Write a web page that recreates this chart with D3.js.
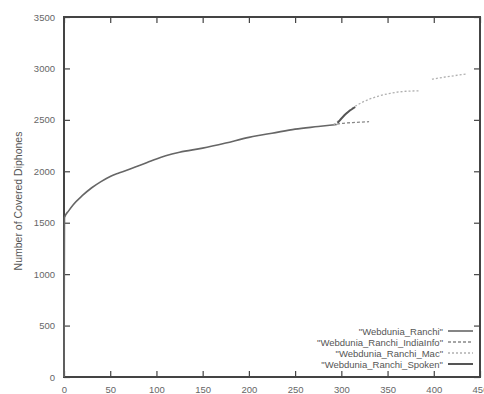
<!DOCTYPE html>
<html>
<head>
  <meta charset="UTF-8">
  <script src="https://d3js.org/d3.v7.min.js"></script>
  <style>
    body { margin: 0; background-color: white; }
    text { font-family: "Liberation Sans", Arial, sans-serif; fill: #555; }
  </style>
</head>
<body>
  <svg></svg>
<script>
  let width = 484,
    height = 394;

  // series data (null = gap in the line)
  let ranchiX = [0, 0.5, 5, 10, 20, 30, 40, 50, 60, 75, 90, 100, 110, 125, 150, 175, 200, 212, 225, 250, 275, 290, 295];
  let ranchiY = [0, 1550, 1615, 1675, 1765, 1840, 1900, 1950, 1985, 2035, 2085, 2120, 2150, 2185, 2225, 2275, 2330, 2350, 2370, 2410, 2435, 2450, 2455];
  let indiaX = [290, 300, 315, 330];
  let indiaY = [2452, 2465, 2475, 2482];
  let macX = [292, 298, 310, 324, 340, 353, 370, 385, 392, 398, 415, 436];
  let macY = [2455, 2500, 2600, 2677, 2730, 2758, 2778, 2782, null, 2895, 2920, 2946];
  let spokenX = [296, 305, 315];
  let spokenY = [2470, 2560, 2625];

  let seriesNames = ['"Webdunia_Ranchi"', '"Webdunia_Ranchi_IndiaInfo"', '"Webdunia_Ranchi_Mac"', '"Webdunia_Ranchi_Spoken"'];
  let xTicks = [0, 50, 100, 150, 200, 250, 300, 350, 400, 450];
  let yTicks = [0, 500, 1000, 1500, 2000, 2500, 3000, 3500];

  let svg = d3.select("svg")
    .attr("width", width)
    .attr("height", height);

  let x = d3.scaleLinear().domain([0, 450]).range([64, 480]);
  let y = d3.scaleLinear().domain([0, 3500]).range([377, 17]);

  let series = [
    { name: seriesNames[0], xs: ranchiX, ys: ranchiY, color: "#666", width: 1.6, dash: null },
    { name: seriesNames[1], xs: indiaX, ys: indiaY, color: "#888", width: 1.3, dash: "3,2" },
    { name: seriesNames[2], xs: macX, ys: macY, color: "#b0b0b0", width: 1.3, dash: "2,2" },
    { name: seriesNames[3], xs: spokenX, ys: spokenY, color: "#555", width: 2, dash: null }
  ];

  let line = d3.line()
    .defined(d => d[1] != null)
    .x(d => x(d[0]))
    .y(d => y(d[1]))
    .curve(d3.curveMonotoneX);

  // axes (gnuplot style: inward ticks, mirrored)
  svg.append("g")
    .attr("transform", "translate(0," + y(0) + ")")
    .call(d3.axisBottom(x).tickValues(xTicks).tickSize(-6).tickPadding(9).tickFormat(d3.format("d")))
    .call(g => g.select(".domain").remove());

  svg.append("g")
    .attr("transform", "translate(0," + y(3500) + ")")
    .call(d3.axisTop(x).tickValues(xTicks).tickSize(-6).tickFormat(""))
    .call(g => g.select(".domain").remove());

  svg.append("g")
    .attr("transform", "translate(" + x(0) + ",0)")
    .call(d3.axisLeft(y).tickValues(yTicks).tickSize(-6).tickPadding(9).tickFormat(d3.format("d")))
    .call(g => g.select(".domain").remove());

  svg.append("g")
    .attr("transform", "translate(" + x(450) + ",0)")
    .call(d3.axisRight(y).tickValues(yTicks).tickSize(-6).tickFormat(""))
    .call(g => g.select(".domain").remove());

  svg.selectAll(".tick line").attr("stroke", "#444").attr("stroke-width", 1.2);
  svg.selectAll(".tick text").attr("font-size", 9.5).style("fill", "#666");

  svg.append("rect")
    .attr("x", x(0))
    .attr("y", y(3500))
    .attr("width", x(450) - x(0))
    .attr("height", y(0) - y(3500))
    .attr("fill", "none")
    .attr("stroke", "#444")
    .attr("stroke-width", 2);

  svg.append("text")
    .attr("transform", "translate(22," + (y(1750) + 4) + ") rotate(-90)")
    .attr("text-anchor", "middle")
    .attr("font-size", 10.5)
    .text("Number of Covered Diphones");

  series.forEach(s => {
    svg.append("path")
      .datum(s.xs.map((v, i) => [v, s.ys[i]]))
      .attr("fill", "none")
      .attr("stroke", s.color)
      .attr("stroke-width", s.width)
      .attr("stroke-dasharray", s.dash)
      .attr("d", line);
  });

  // legend
  let legend = svg.append("g")
    .selectAll("g")
    .data(series)
    .enter()
    .append("g")
    .attr("transform", (d, i) => "translate(0," + (331 + i * 11) + ")");

  legend.append("text")
    .attr("x", 443)
    .attr("y", 3.5)
    .attr("text-anchor", "end")
    .attr("font-size", 9.5)
    .text(d => d.name);

  legend.append("line")
    .attr("x1", 448)
    .attr("x2", 473)
    .attr("stroke", d => d.color)
    .attr("stroke-width", d => d.width)
    .attr("stroke-dasharray", d => d.dash);
</script>
</body>
</html>
